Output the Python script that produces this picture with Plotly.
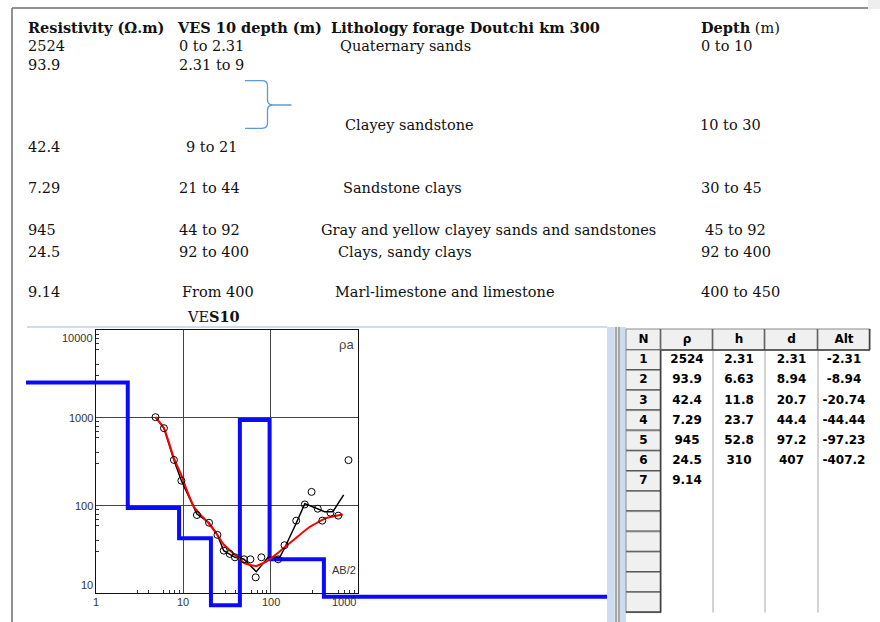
import math
import plotly.graph_objects as go

W, H = 880, 622


def fx(x):
    return x / W


def fy(y):
    return 1 - y / H


# ---------------- VES 10 : interpreted layered model ----------------
layer_rho = [2524, 93.9, 42.4, 7.29, 945, 24.5, 9.14]
layer_h = [2.31, 6.63, 11.8, 23.7, 52.8, 310]
layer_d = [2.31, 8.94, 20.7, 44.4, 97.2, 407]
layer_alt = [-2.31, -8.94, -20.74, -44.44, -97.23, -407.2]

# ---------------- field sounding : AB/2 (m) vs apparent resistivity ----------------
ab2 = [4.8, 6.0, 7.8, 9.5, 14.3, 19.7, 24.6, 29, 34, 39, 49.5, 58.6, 67.4, 78.3,
       122, 144, 196, 246, 294, 346, 390, 484, 594, 778]
rho_a = [1016, 761, 331, 192, 78, 63.7, 46.3, 30.6, 28.1, 25.7, 24.4, 24.4, 15.2, 25.7,
         24.4, 35.3, 67.3, 103, 143, 92, 67.3, 82.9, 76.7, 329]

# smoothed field curve
smooth_ab2 = [4.8, 6.0, 7.8, 9.5, 14.3, 19.7, 24.6, 29, 39, 49.5, 68.5, 93.5,
              127, 144, 196, 246, 302, 414, 515, 685]
smooth_rho = [1016, 761, 331, 192, 80, 63.7, 46.3, 30.6, 25.7, 24.4, 17.6, 25.7,
              25.7, 32.6, 62.8, 105, 97, 85, 85, 132]

# model response curve
calc_ab2 = [4.8, 6.0, 6.7, 7.8, 9.5, 10.9, 11.9, 13.2, 15.5, 19.7, 24.6, 29, 38.9,
            50.4, 68.5, 89, 127, 180, 278, 433, 670]
calc_rho = [1016, 761, 556, 345, 222, 152, 122, 97, 80, 62, 46, 36, 27.4,
            22, 20.5, 23, 30, 40, 57, 72, 79]

# axis labelling
x_major = [1, 10, 100, 1000]
x_dashed = [2, 5, 20, 50, 200, 500]
x_minor = [3, 4, 6, 7, 8, 9, 30, 40, 60, 70, 80, 90, 300, 400, 600, 700, 800, 900]
y_major = [10, 100, 1000, 10000]
y_dashed = [20, 50, 200, 500, 2000, 5000]
y_minor = [30, 40, 60, 70, 80, 90, 300, 400, 600, 700, 800, 900, 3000, 4000, 6000, 7000, 8000, 9000]

# ---------------- lithological log, borehole Doutchi km 300 ----------------
col_headers = ["Resistivity (Ω.m)", "VES 10 depth (m)", "Lithology forage Doutchi km 300"]
res_labels = ["2524", "93.9", "42.4", "7.29", "945", "24.5", "9.14"]
ves_ranges = ["0 to 2.31", "2.31 to 9", "9 to 21", "21 to 44", "44 to 92", "92 to 400", "From 400"]
lithology = ["Quaternary sands", "Clayey sandstone", "Sandstone clays",
             "Gray and yellow clayey sands and sandstones", "Clays, sandy clays",
             "Marl-limestone and limestone"]
litho_ranges = ["0 to 10", "10 to 30", "30 to 45", "45 to 92", "92 to 400", "400 to 450"]

# table headers
tab_headers = ["N", "ρ", "h", "d", "Alt"]

# text placement (pixels)
head_y = 27.5
res_y = [46, 65, 147, 188, 230, 252, 292]
ves_xy = [(178, 46), (178, 65), (185, 147), (178, 188), (178, 230), (178, 252), (181, 292)]
litho_xy = [(339, 46), (344, 125), (342, 188), (320, 230), (337, 252), (334, 292)]
lrange_xy = [(700, 46), (699, 125), (700, 188), (704, 230), (700, 252), (700, 292)]

# ---------------- plot geometry ----------------
PX0, PX1 = 96, 358          # x = 1 .. 1000
PY_TOP, PY_BOT = 330, 593.3  # rho = 10000 .. 10
DEC_X = (PX1 - PX0) / 3
DEC_Y = (PY_BOT - PY_TOP) / 3
MX0, MX1 = 26, 607           # model window (layer line reaches outside the frame)
MY0, MY1 = 320, 614

x2_range = [(MX0 - PX0) / DEC_X, (MX1 - PX0) / DEC_X]
y2_range = [1 + (PY_BOT - MY1) / DEC_Y, 1 + (PY_BOT - MY0) / DEC_Y]

# table geometry (pixels)
T_COLS = [626, 661, 713, 765, 818, 870]
T_TOP, T_HEAD = 329, 350
T_ROW = 20.2
T_NROWS = 13

fig = go.Figure()

# layered model as a step line
step_x = [10 ** x2_range[0]] + layer_d + [10 ** x2_range[1]]
step_y = layer_rho + [layer_rho[-1]]
fig.add_trace(go.Scatter(x=step_x, y=step_y, mode="lines", line_shape="hv",
                         line=dict(color="#0a0aff", width=4),
                         xaxis="x2", yaxis="y2", hoverinfo="skip"))
fig.add_trace(go.Scatter(x=smooth_ab2, y=smooth_rho, mode="lines",
                         line=dict(color="#000000", width=1.5),
                         xaxis="x2", yaxis="y2"))
fig.add_trace(go.Scatter(x=calc_ab2, y=calc_rho, mode="lines", line_shape="spline",
                         line=dict(color="#ff0000", width=2, smoothing=0.4),
                         xaxis="x2", yaxis="y2"))
fig.add_trace(go.Scatter(x=ab2, y=rho_a, mode="markers",
                         marker=dict(symbol="circle-open", size=7, color="#000000",
                                     line=dict(width=1)),
                         xaxis="x2", yaxis="y2"))

# ---------------- parameter table (values placed on a pixel-unit axis pair) ----------------
n_col = [str(i + 1) for i in range(len(layer_rho))]
table_cols = [n_col,
              [f"{v:g}" for v in layer_rho],
              [f"{v:g}" for v in layer_h],
              [f"{v:g}" for v in layer_d],
              [f"{v:g}" for v in layer_alt]]
col_mid = [(T_COLS[i] + T_COLS[i + 1]) / 2 for i in range(5)]

tx, ty, tt = [], [], []
for i, h in enumerate(tab_headers):
    tx.append(col_mid[i])
    ty.append((T_TOP + T_HEAD) / 2)
    tt.append("<b>%s</b>" % h)
for i, col in enumerate(table_cols):
    for r, v in enumerate(col):
        tx.append(col_mid[i])
        ty.append(T_HEAD + T_ROW * (r + 0.5))
        tt.append("<b>%s</b>" % v)
fig.add_trace(go.Scatter(x=tx, y=ty, text=tt, mode="text", textposition="middle center",
                         textfont=dict(family="DejaVu Sans", size=12, color="#000"),
                         xaxis="x4", yaxis="y4", hoverinfo="skip"))

# ---------------- annotations ----------------
ann = []
SERIF = "DejaVu Serif"
TSIZE = 14.5


def txt(s, x, y, size=TSIZE, family=SERIF, anchor="left", color="#111"):
    ann.append(dict(text=s, x=fx(x), y=fy(y), xref="paper", yref="paper",
                    xanchor=anchor, yanchor="middle", showarrow=False, borderpad=0,
                    font=dict(family=family, size=size, color=color)))


txt("<b>%s</b>" % col_headers[0], 27, head_y)
txt("<b>%s</b>" % col_headers[1], 176, head_y)
txt("<b>%s</b>" % col_headers[2], 330, head_y)
txt("<b>Depth</b> (m)", 700, head_y)
for s, y in zip(res_labels, res_y):
    txt(s, 27, y)
for s, (x, y) in zip(ves_ranges, ves_xy):
    txt(s, x, y)
for s, (x, y) in zip(lithology, litho_xy):
    txt(s, x, y)
for s, (x, y) in zip(litho_ranges, lrange_xy):
    txt(s, x, y)
txt("VE<b>S10</b>", 186, 316)

# tick labels on the sounding axes
lab_font = dict(family="Liberation Sans", size=11, color="#333")
for v in y_major:
    ya = {10000: "top", 10: "bottom"}.get(v, "middle")
    ann.append(dict(text=f"{v}", x=fx(95), y=math.log10(v), xref="paper", yref="y",
                    xanchor="right", yanchor=ya, showarrow=False, font=lab_font))
for v in x_major:
    xa = "right" if v == 1000 else "center"
    ann.append(dict(text=f"{v}", x=math.log10(v), y=fy(602), xref="x", yref="paper",
                    xanchor=xa, yanchor="middle", showarrow=False, font=lab_font))
ann.append(dict(text="ρa", x=fx(346), y=fy(344), xref="paper", yref="paper",
                showarrow=False, font=dict(family="Liberation Sans", size=13, color="#444")))
ann.append(dict(text="AB/2", x=fx(344), y=fy(578), xref="paper", yref="paper",
                showarrow=False, font=dict(family="Liberation Sans", size=11, color="#333")))

# ---------------- frame and decorations ----------------
shapes = []


def line(x0, y0, x1, y1, color, width=1):
    shapes.append(dict(type="line", xref="paper", yref="paper", x0=fx(x0), y0=fy(y0),
                       x1=fx(x1), y1=fy(y1), line=dict(color=color, width=width),
                       layer="below"))


def rect(x0, y0, x1, y1, color, lcolor=None, lwidth=0):
    shapes.append(dict(type="rect", xref="paper", yref="paper", x0=fx(x0), y0=fy(y0),
                       x1=fx(x1), y1=fy(y1), fillcolor=color, layer="below",
                       line=dict(width=lwidth, color=lcolor or color)))


line(12, 8, 868, 8, "#6e6e6e", 1.5)
line(12, 8, 12, 622, "#6e6e6e", 1.5)
rect(868, 0, 880, 9, "#eeeeee")

# brace joining the two upper layers
brace = [("M", 245, 80.7), ("L", 262, 80.7), ("Q", 267.5, 80.7), ("", 267.5, 86),
         ("L", 267.5, 99.5), ("Q", 267.5, 105), ("", 273, 105), ("L", 291.5, 105),
         ("M", 273, 105), ("Q", 267.5, 105), ("", 267.5, 110.5), ("L", 267.5, 123),
         ("Q", 267.5, 128.3), ("", 262, 128.3), ("L", 245, 128.3)]
path = " ".join(f"{c} {fx(x):.5f},{fy(y):.5f}".strip() for c, x, y in brace)
shapes.append(dict(type="path", xref="paper", yref="paper", path=path,
                   line=dict(color="#5b9bd5", width=1.3)))

# window edge and splitter
line(27, 327, 607, 327, "#cfdcee", 2)
rect(607, 327, 614, 622, "#cddcf0")
rect(614, 327, 620, 622, "#e4e4e4")
line(616, 327, 616, 622, "#6a6a6a", 1)
line(619, 327, 619, 622, "#6a6a6a", 1)
rect(620, 327, 626, 622, "#cddcf0")

# table grid: header buttons, row-number buttons and light column separators
T_BOT = T_HEAD + T_ROW * T_NROWS
for xs in T_COLS[2:5]:
    line(xs, T_HEAD, xs, T_BOT, "#d4d4d4", 2)
for i in range(5):
    rect(T_COLS[i], T_TOP, T_COLS[i + 1], T_HEAD, "#f0f0f0", "#8a8a8a", 1)
    line(T_COLS[i + 1] - 0.5, T_TOP, T_COLS[i + 1] - 0.5, T_HEAD, "#404040", 1.5)
line(T_COLS[0], T_HEAD, T_COLS[-1], T_HEAD, "#404040", 1.5)
for r in range(T_NROWS):
    y0 = T_HEAD + T_ROW * r
    rect(T_COLS[0], y0, T_COLS[1], y0 + T_ROW, "#f0f0f0", "#8a8a8a", 1)
    line(T_COLS[0], y0 + T_ROW - 0.5, T_COLS[1], y0 + T_ROW - 0.5, "#404040", 1.5)
line(T_COLS[1] - 0.5, T_HEAD, T_COLS[1] - 0.5, T_BOT, "#404040", 1.5)

fig.update_layout(
    width=W, height=H, margin=dict(l=0, r=0, t=0, b=0),
    paper_bgcolor="white", plot_bgcolor="rgba(0,0,0,0)", showlegend=False,
    xaxis=dict(type="log", range=[0, 3], domain=[fx(PX0), fx(PX1)], anchor="y",
               showline=True, mirror=True, linecolor="#111", linewidth=1,
               tickvals=x_major, ticks="", showticklabels=False, zeroline=False,
               showgrid=True, gridcolor="#444", gridwidth=1,
               minor=dict(tickvals=x_minor, ticks="inside", ticklen=3,
                          tickcolor="#333", showgrid=False)),
    yaxis=dict(type="log", range=[1, 4], domain=[fy(PY_BOT), fy(PY_TOP)], anchor="x",
               showline=True, mirror=True, linecolor="#111", linewidth=1,
               tickvals=y_major, ticks="", showticklabels=False, zeroline=False,
               showgrid=True, gridcolor="#444", gridwidth=1,
               minor=dict(tickvals=y_minor, ticks="inside", ticklen=3,
                          tickcolor="#333", showgrid=False)),
    xaxis3=dict(type="log", range=[0, 3], overlaying="x", anchor="y3",
                tickvals=x_dashed, showgrid=True, gridcolor="#222", gridwidth=1,
                griddash="4px,3px", ticks="", showticklabels=False,
                showline=False, zeroline=False),
    yaxis3=dict(type="log", range=[1, 4], overlaying="y", anchor="x3",
                tickvals=y_dashed, showgrid=True, gridcolor="#222", gridwidth=1,
                griddash="4px,3px", ticks="", showticklabels=False,
                showline=False, zeroline=False),
    xaxis2=dict(type="log", range=x2_range, domain=[fx(MX0), fx(MX1)], anchor="y2",
                visible=False),
    yaxis2=dict(type="log", range=y2_range, domain=[fy(MY1), fy(MY0)], anchor="x2",
                visible=False),
    xaxis4=dict(range=[T_COLS[0], T_COLS[-1]], domain=[fx(T_COLS[0]), fx(T_COLS[-1])],
                anchor="y4", visible=False),
    yaxis4=dict(range=[H, T_TOP], domain=[0, fy(T_TOP)], anchor="x4", visible=False),
    annotations=ann,
    shapes=shapes,
)

fig.write_html("out.html")
